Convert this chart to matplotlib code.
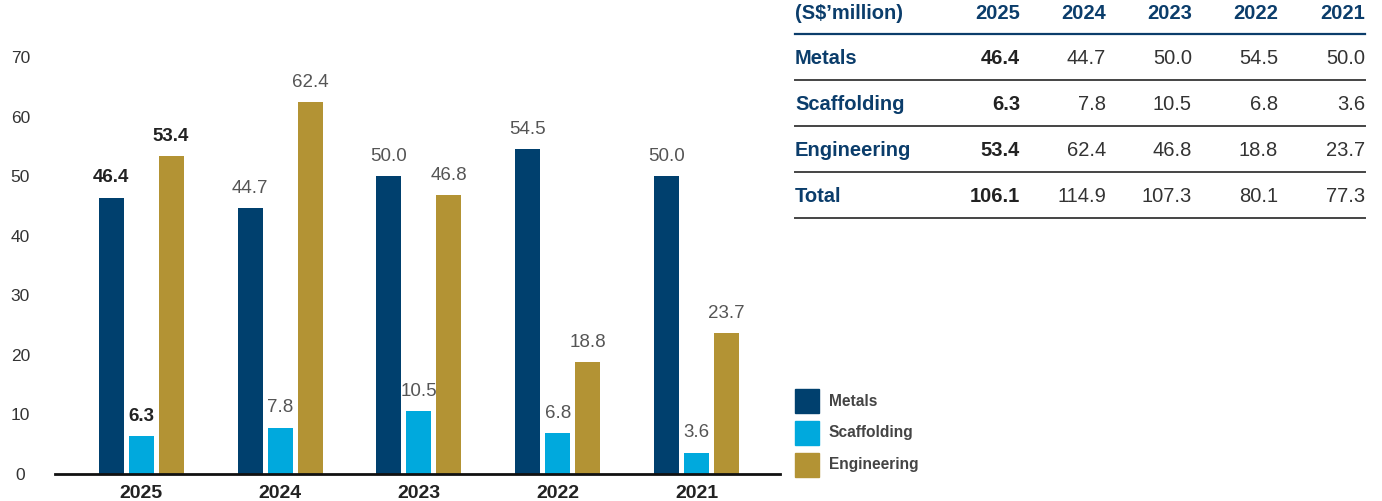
import numpy as np
import matplotlib
matplotlib.use('Agg')
from matplotlib import pyplot as plt
from matplotlib.patches import Rectangle
from matplotlib.lines import Line2D

plt.rcParams['font.family'] = ['Liberation Sans', 'DejaVu Sans']

years = ['2025', '2024', '2023', '2022', '2021']
segments = ['Metals', 'Scaffolding', 'Engineering']
metals = [46.4, 44.7, 50.0, 54.5, 50.0]
scaffolding = [6.3, 7.8, 10.5, 6.8, 3.6]
engineering = [53.4, 62.4, 46.8, 18.8, 23.7]
totals = [106.1, 114.9, 107.3, 80.1, 77.3]
yticks = [0, 10, 20, 30, 40, 50, 60, 70]

BLUE = '#00406e'
CYAN = '#00a9dd'
GOLD = '#b39334'
NAVY = '#0b3d6b'
colors = [BLUE, CYAN, GOLD]

W, H = 1382, 501
fig = plt.figure(figsize=(W/100, H/100), dpi=100)

# bar chart on the left
ax = fig.add_axes([55/W, 1-474/H, (780-55)/W, (474-57)/H])
x = np.arange(len(years))
bw = 0.18
off = 0.216
for k, vals in enumerate([metals, scaffolding, engineering]):
    pos = x + (k-1)*off
    ax.bar(pos, vals, width=bw, color=colors[k], zorder=2)
    for i, (p, v) in enumerate(zip(pos, vals)):
        bold = (i == 0)
        ax.annotate('{:.1f}'.format(v), (p, v), xytext=(0, 8), textcoords='offset points',
                    ha='center', va='bottom', fontsize=13.5,
                    fontweight='bold' if bold else 'normal',
                    color='#222222' if bold else '#555555', clip_on=False)
ax.set_xlim(-0.62, 4.6)
ax.set_ylim(0, 70)
ax.set_yticks(yticks)
ax.set_yticklabels([str(t) for t in yticks], ha='center')
ax.set_xticks(x)
ax.set_xticklabels(years, fontsize=14, fontweight='bold', color='#222222')
ax.tick_params(axis='y', length=0, pad=25, labelsize=12.5, labelcolor='#333333')
ax.tick_params(axis='x', length=0, pad=8)
for s in ['top', 'right', 'left']:
    ax.spines[s].set_visible(False)
ax.spines['bottom'].set_linewidth(2)
ax.spines['bottom'].set_color('#111111')

# heading (only its lower edge falls inside the canvas)
fig.text(22/W, 1+5/H, 'Segment Revenue', fontsize=16, fontweight='bold', color=NAVY,
         ha='left', va='baseline')
fig.text(262/W, 1+5/H, "(S$\u2019million)", fontsize=16, fontweight='bold', color='#222222',
         ha='left', va='baseline')

# table and legend on the right, in pixel coordinates
tx = fig.add_axes([0, 0, 1, 1])
tx.set_xlim(0, W)
tx.set_ylim(H, 0)
tx.axis('off')

lx = 795
col_r = [1020, 1106, 1192, 1278, 1365]
row_y = [58, 104, 150, 196]
fs = 14.5

tx.text(lx, 13, "(S$\u2019million)", fontsize=fs, fontweight='bold', color=NAVY,
        ha='left', va='center')
for cx, yr in zip(col_r, years):
    tx.text(cx, 13, yr, fontsize=fs, fontweight='bold', color=NAVY, ha='right', va='center')

rows = [metals, scaffolding, engineering, totals]
labels = segments + ['Total']
for ry, lab, vals in zip(row_y, labels, rows):
    tx.text(lx, ry, lab, fontsize=fs, fontweight='bold', color=NAVY, ha='left', va='center')
    for i, (cx, v) in enumerate(zip(col_r, vals)):
        tx.text(cx, ry, '{:.1f}'.format(v), fontsize=fs,
                fontweight='bold' if i == 0 else 'normal',
                color='#222222' if i == 0 else '#333333', ha='right', va='center')

tx.add_line(Line2D([lx, 1365], [34, 34], color=NAVY, lw=1.6))
for ly in [80, 126, 172, 218]:
    tx.add_line(Line2D([lx, 1365], [ly, ly], color='#444444', lw=1.4))

# legend
for k, (lab, c) in enumerate(zip(segments, colors)):
    cy = 401 + 32*k
    tx.add_patch(Rectangle((795, cy-12), 24, 24, color=c))
    tx.text(829, cy, lab, fontsize=11.2, fontweight='bold', color='#444444', ha='left', va='center')

fig.savefig('out.png', dpi=100)
